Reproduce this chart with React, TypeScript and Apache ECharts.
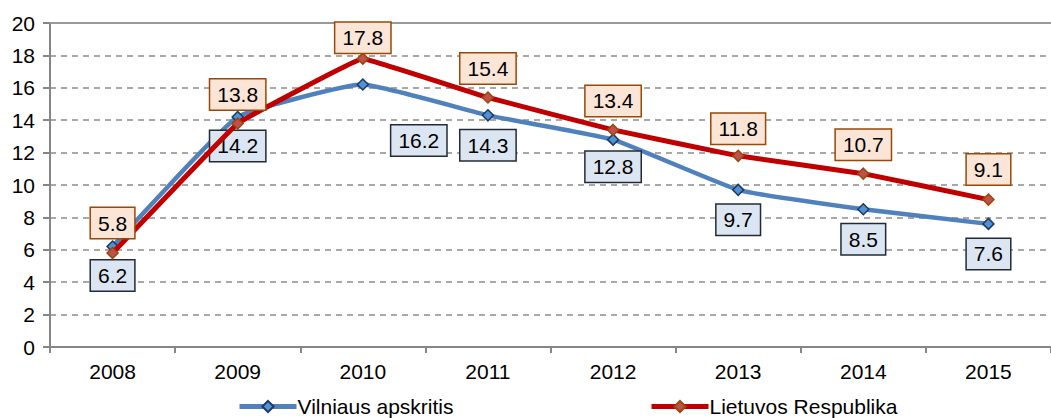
import React, { useEffect, useRef } from "react";
import * as echarts from "echarts";

const years = ["2008", "2009", "2010", "2011", "2012", "2013", "2014", "2015"];
const vilniausApskritis = [6.2, 14.2, 16.2, 14.3, 12.8, 9.7, 8.5, 7.6];
const lietuvosRespublika = [5.8, 13.8, 17.8, 15.4, 13.4, 11.8, 10.7, 9.1];

// label offsets (styling only)
const blueLabelOffsets = [[0, 29], [0, 29], [56, 56], [0, 30], [0, 27], [0, 30], [0, 30], [0, 30]];
const redLabelOffsets = [[0, -30], [0, -29], [0, -21], [0, -29], [0, -29], [0, -27], [0, -29], [0, -30]];

const FONT = "'Liberation Sans', Arial, sans-serif";

export default function App() {
  const ref = useRef<HTMLDivElement>(null);
  useEffect(() => {
    if (!ref.current) return;
    const chart = echarts.init(ref.current, null, { renderer: "svg" });
    const labelBase = {
      show: true,
      position: "inside",
      fontSize: 21,
      lineHeight: 21,
      fontFamily: FONT,
      color: "#000",
      padding: [5, 7, 4, 7],
      borderWidth: 1.5,
    };
    const legendText = { fontSize: 21, fontFamily: FONT, color: "#000", padding: [0, 0, 0, -4] };
    chart.setOption({
      animation: false,
      textStyle: { fontFamily: FONT },
      grid: { left: 50, top: 23, width: 1008, height: 324, containLabel: false },
      legend: [
        {
          left: 237,
          top: 396,
          padding: 0,
          itemWidth: 57,
          itemHeight: 14,
          data: [{ name: "Vilniaus apskritis", lineStyle: { width: 5, color: "#4F81BD" } }],
          textStyle: legendText,
        },
        {
          left: 649,
          top: 396,
          padding: 0,
          itemWidth: 57,
          itemHeight: 14,
          data: [{ name: "Lietuvos Respublika", lineStyle: { width: 5, color: "#C00000" } }],
          textStyle: legendText,
        },
      ],
      xAxis: [
        {
          type: "category",
          data: years,
          boundaryGap: true,
          axisLine: { lineStyle: { color: "#868686", width: 2 } },
          axisTick: { show: true, length: 6, lineStyle: { color: "#868686", width: 2 } },
          axisLabel: { fontSize: 21, color: "#000", margin: 14, fontFamily: FONT },
        },
        {
          type: "category",
          data: years,
          position: "top",
          axisLine: { show: true, lineStyle: { color: "#999", width: 2 } },
          axisTick: { show: false },
          axisLabel: { show: false },
        },
      ],
      yAxis: {
        type: "value",
        min: 0,
        max: 20,
        interval: 2,
        axisLine: { show: true, lineStyle: { color: "#868686", width: 2 } },
        axisTick: { show: true, length: 7, lineStyle: { color: "#868686", width: 2 } },
        axisLabel: { fontSize: 21, color: "#000", margin: 15, fontFamily: FONT },
        splitLine: { show: true, lineStyle: { color: "#8c8c8c", type: [6, 5], width: 1.5 } },
      },
      series: [
        {
          name: "Vilniaus apskritis",
          type: "line",
          smooth: 0.12,
          symbol: "diamond",
          symbolSize: 11,
          z: 2,
          lineStyle: { color: "#4F81BD", width: 4.5 },
          itemStyle: { color: "#4F93D3", borderColor: "#1F3864", borderWidth: 1.5 },
          label: { ...labelBase, backgroundColor: "#DCE6F2", borderColor: "#222B35" },
          data: vilniausApskritis.map((v, i) => ({ value: v, label: { offset: blueLabelOffsets[i] } })),
        },
        {
          name: "Lietuvos Respublika",
          type: "line",
          smooth: 0.05,
          symbol: "diamond",
          symbolSize: 11,
          z: 3,
          lineStyle: { color: "#C00000", width: 5 },
          itemStyle: { color: "#C0504D", borderColor: "#984807", borderWidth: 1.5 },
          label: { ...labelBase, backgroundColor: "#FBE5D6", borderColor: "#984807" },
          data: lietuvosRespublika.map((v, i) => ({ value: v, label: { offset: redLabelOffsets[i] } })),
        },
      ],
    });
    return () => chart.dispose();
  }, []);
  return (
    <div
      ref={ref}
      style={{ position: "absolute", left: 0, top: 0, width: 1051, height: 418, background: "#fff" }}
    />
  );
}
